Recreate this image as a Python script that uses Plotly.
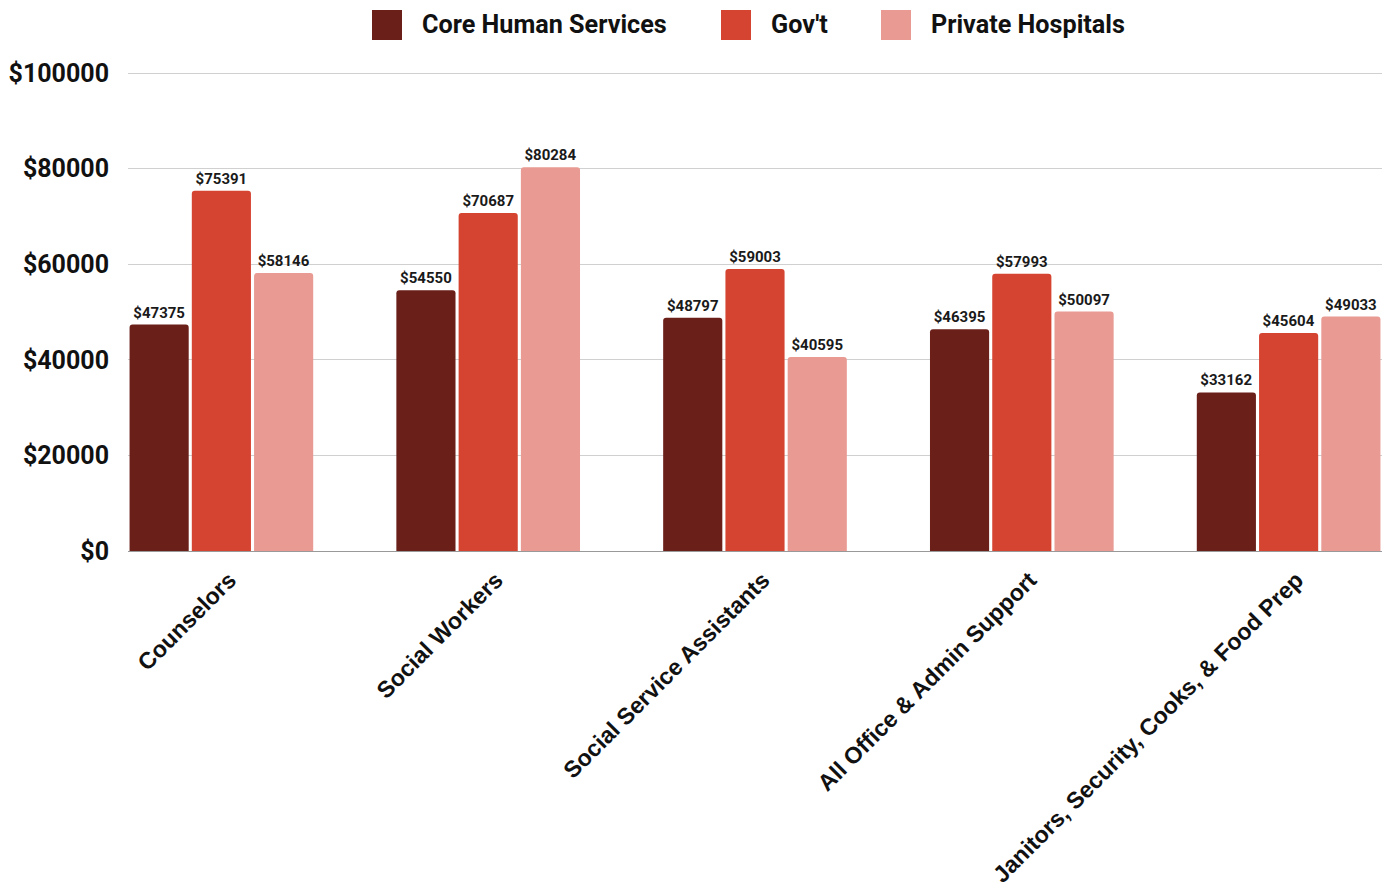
import plotly.graph_objects as go

categories = ["Counselors", "Social Workers", "Social Service Assistants",
              "All Office & Admin Support", "Janitors, Security, Cooks, & Food Prep"]
core_human_services = [47375, 54550, 48797, 46395, 33162]
govt = [75391, 70687, 59003, 57993, 45604]
private_hospitals = [58146, 80284, 40595, 50097, 49033]

series_names = ["Core Human Services", "Gov't", "Private Hospitals"]
series_values = [core_human_services, govt, private_hospitals]
colors = ["#6A1F19", "#D54331", "#E89A93"]

tick_vals = [0, 20000, 40000, 60000, 80000, 100000]
tick_text = ["$0", "$20000", "$40000", "$60000", "$80000", "$100000"]

W, H = 1388, 891
ML, MR, MT, MB = 128, 6, 71, 340
PW, PH = W - ML - MR, H - MT - MB
Y_MAX = 100000 / (1 - 2 / PH)  # leave 2px above the top gridline so it is drawn


def px_x(x):
    return (x - ML) / PW


def px_y(y):
    return (H - MB - y) / PH


fig = go.Figure()
for name, vals, c in zip(series_names, series_values, colors):
    fig.add_trace(go.Bar(
        x=categories, y=vals, name=name,
        marker=dict(color=c, cornerradius=3, line=dict(width=0)),
        text=[f"${v}" for v in vals], textposition="outside", cliponaxis=False,
        textfont=dict(family="Roboto", size=15, color="#1a1a1a", weight="bold"),
        showlegend=False,
    ))

# legend drawn as swatches + labels (like the reference's large square swatches)
legend_swatch_left = [372, 721, 881]
shapes, annotations = [], []
for name, c, sx in zip(series_names, colors, legend_swatch_left):
    shapes.append(dict(type="rect", xref="paper", yref="paper",
                       x0=px_x(sx), x1=px_x(sx + 30), y0=px_y(40), y1=px_y(10),
                       fillcolor=c, line=dict(width=0)))
    annotations.append(dict(xref="paper", yref="paper", x=px_x(sx + 48), y=px_y(25),
                            xanchor="left", yanchor="middle", showarrow=False, text=name,
                            font=dict(family="Roboto", size=25.2, color="#111111", weight="bold")))

fig.update_layout(
    width=W, height=H,
    margin=dict(l=ML, r=MR, t=MT, b=MB, autoexpand=False),
    plot_bgcolor="white", paper_bgcolor="white",
    barmode="group", bargap=0.3, bargroupgap=0.05,
    font=dict(family="Roboto", color="#111111"),
    showlegend=False,
    shapes=shapes, annotations=annotations,
    xaxis=dict(range=[-0.35, 4.35], tickangle=-45, showgrid=False, automargin=False,
               tickfont=dict(family="Arial, 'Liberation Sans', sans-serif", size=23.2,
                             color="#111111", weight="bold"),
               showline=False, ticks="", ticklabelstandoff=10, ticklabelshift=8),
    yaxis=dict(range=[0, Y_MAX], tickvals=tick_vals, ticktext=tick_text, automargin=False,
               showgrid=True, gridcolor="#D0D0D0", gridwidth=1,
               zeroline=True, zerolinecolor="#999999", zerolinewidth=1,
               tickfont=dict(family="Roboto", size=25, color="#111111", weight="bold"),
               ticks="", ticklabelstandoff=18),
)

fig.write_html("out.html")
